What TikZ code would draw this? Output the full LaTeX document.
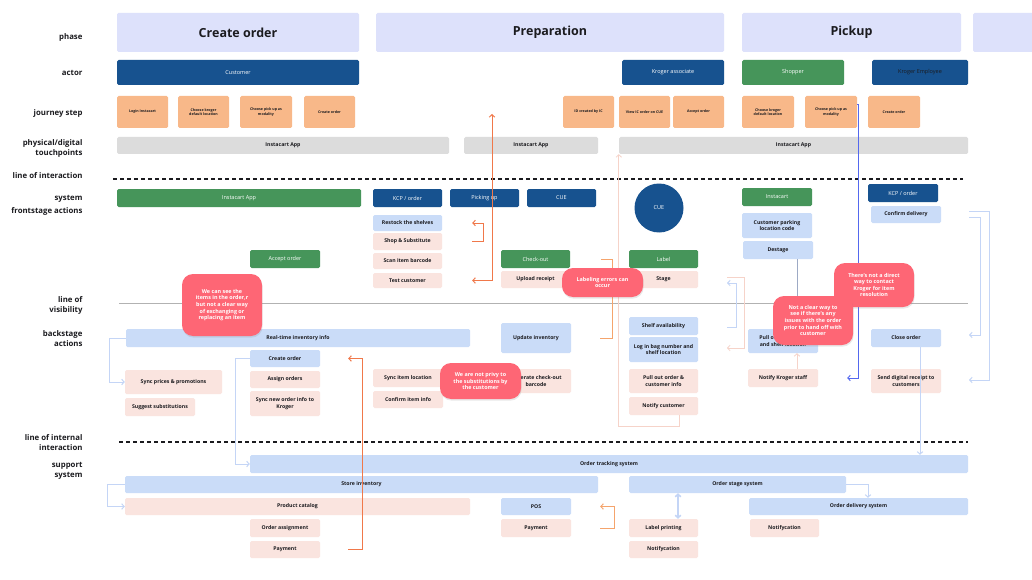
\documentclass[tikz,border=0pt]{standalone}
\usepackage{fontspec}
\setmainfont{Open Sans}
\usepackage{xcolor}
\usepackage{tikz}
\usetikzlibrary{arrows.meta,shadows}
\definecolor{inkc}{HTML}{1B1B1F}
\definecolor{phasec}{HTML}{DDE1FB}
\definecolor{actorc}{HTML}{17528F}
\definecolor{greenc}{HTML}{46955A}
\definecolor{stepc}{HTML}{F8B889}
\definecolor{touchc}{HTML}{DCDCDC}
\definecolor{lbluec}{HTML}{CADCF8}
\definecolor{pinkc}{HTML}{FAE4DF}
\definecolor{calloutc}{HTML}{FE6675}
\definecolor{orangec}{HTML}{F0784A}
\definecolor{orangel}{HTML}{F5A46C}
\definecolor{bluec}{HTML}{5468EF}
\definecolor{lblinec}{HTML}{C4D5F6}
\definecolor{pinkl}{HTML}{F6D3C9}
\tikzset{
  cell/.style={rounded corners=1.5pt,inner sep=1pt,align=center,text=inkc,font=\fontsize{5.2}{6.3}\selectfont\bfseries},
  phasebox/.style={cell,fill=phasec,font=\fontsize{12.5}{15}\selectfont\bfseries},
  actorbox/.style={cell,fill=actorc,text=white,font=\fontsize{5.5}{6.5}\selectfont},
  greenbox/.style={cell,fill=greenc,text=white,font=\fontsize{5.5}{6.5}\selectfont},
  stepbox/.style={cell,fill=stepc,font=\fontsize{3.6}{4.4}\selectfont\bfseries},
  touchbox/.style={cell,fill=touchc},
  lbox/.style={cell,fill=lbluec},
  pbox/.style={cell,fill=pinkc},
  callout/.style={fill=calloutc,text=white,rounded corners=11pt,inner sep=1pt,align=center,
    font=\fontsize{5.4}{6.6}\selectfont\bfseries,drop shadow={opacity=0.18,shadow xshift=0.6pt,shadow yshift=-1.6pt}},
  rowlab/.style={anchor=east,align=right,text=inkc,font=\fontsize{7.8}{10}\selectfont\bfseries},
  dashln/.style={line width=1.2pt,inkc,dash pattern=on 4pt off 3pt},
  visln/.style={line width=0.8pt,black!30},
  tip/.style={-{Straight Barb[length=2.5pt,width=5.5pt]}},
  oar/.style={tip,line width=1pt,orangec},
  oarl/.style={tip,line width=1pt,orangel},
  lbar/.style={tip,line width=1pt,lblinec},
  pkar/.style={tip,line width=0.8pt,pinkl},
  bar/.style={tip,line width=0.9pt,bluec}
}
\newcommand{\tile}[7]{\node[#2,minimum width={#5-#3},minimum height={#6-#4}] (#1) at ({(#3+#5)/2},{(#4+#6)/2}) {#7};}

\begin{document}
\begin{tikzpicture}[x=1pt,y=-1pt]
\fill[white] (0,0) rectangle (1032,580);
\useasboundingbox (0,0) rectangle (1032,580);

\node[rowlab] (lPhase) at (86,37) {phase};
\node[rowlab] (lActor) at (86,73) {actor};
\node[rowlab] (lStep) at (86,113) {journey step};
\node[rowlab] (lTouch) at (86,148) {physical/digital\\touchpoints};
\node[rowlab] (lInter) at (86,176) {line of interaction};
\node[rowlab] (lSys) at (86,205) {system\\[3pt]frontstage actions};
\node[rowlab] (lVis) at (86,305) {line of\\visibility};
\node[rowlab] (lBack) at (86,339) {backstage\\actions};
\node[rowlab] (lInt) at (86,443) {line of internal\\interaction};
\node[rowlab] (lSup) at (86,471) {support\\system};

\tile{ph1}{phasebox}{117}{13}{359}{52}{Create order}
\tile{ph2}{phasebox}{376}{13}{724}{52}{Preparation}
\tile{ph3}{phasebox}{742}{13}{961}{52}{Pickup}
\tile{ph4}{phasebox}{973}{13}{1042}{52}{}

\tile{acCust}{actorbox}{117}{60}{359}{85}{Customer}
\tile{acAssoc}{actorbox}{622}{60}{724}{85}{Kroger associate}
\tile{acShop}{greenbox}{742}{60}{844}{85}{Shopper}
\tile{acEmpl}{actorbox,text=inkc}{872}{60}{968}{85}{Kroger Employee}

\tile{jLogin}{stepbox}{117}{96}{168}{128}{Login Instacart}
\tile{jLoc}{stepbox}{178}{96}{229}{128}{Choose kroger\\default location}
\tile{jPick}{stepbox}{240}{96}{292}{128}{Choose pick up as\\modality}
\tile{jCreate}{stepbox}{304}{96}{355}{128}{Create order}
\tile{jId}{stepbox}{563}{96}{614}{128}{ID created by IC}
\tile{jView}{stepbox}{619}{96}{670}{128}{View IC order on CUE}
\tile{jAccept}{stepbox}{673}{96}{724}{128}{Accept order}
\tile{jLocB}{stepbox}{742}{96}{794}{128}{Choose kroger\\default location}
\tile{jPickB}{stepbox}{805}{96}{857}{128}{Choose pick up as\\modality}
\tile{jCreateB}{stepbox}{868}{96}{920}{128}{Create order}

\tile{tpA}{touchbox}{117}{137}{449}{154}{Instacart App}
\tile{tpB}{touchbox}{464}{137}{598}{154}{Instacart App}
\tile{tpC}{touchbox}{619}{137}{968}{154}{Instacart App}

\draw[dashln] (113,179) -- (963,179);

\tile{fsApp}{greenbox}{117}{189}{361}{207}{Instacart App}
\tile{fsKcp}{actorbox}{373}{189}{442}{207}{KCP / order}
\tile{fsPick}{actorbox}{450}{189}{519}{207}{Picking up}
\tile{fsCue}{actorbox}{527}{189}{596}{207}{CUE}
\node[circle,fill=actorc,text=white,minimum size=49pt,inner sep=0pt,font=\fontsize{5.5}{6.5}\selectfont] (fsCueB) at (659,208) {CUE};
\tile{fsInst}{greenbox}{742}{188}{812}{206}{Instacart}
\tile{fsKcpB}{actorbox}{868}{184}{938}{202}{KCP / order}
\tile{fsConf}{lbox}{871}{206}{941}{223}{Confirm delivery}
\tile{fsRestock}{lbox}{373}{215}{442}{231}{Restock the shelves}
\tile{fsShop}{pbox}{373}{233}{442}{250}{Shop \& Substitute}
\tile{fsScan}{pbox}{373}{253}{442}{269}{Scan item barcode}
\tile{fsTest}{pbox}{373}{273}{442}{288}{Test customer}
\tile{fsAccept}{greenbox}{250}{250}{320}{268}{Accept order}
\tile{fsCheck}{greenbox}{501}{250}{570}{268}{Check-out}
\tile{fsUpload}{pbox}{501}{271}{570}{288}{Upload receipt}
\tile{fsLabel}{greenbox}{629}{250}{698}{268}{Label}
\tile{fsStage}{pbox}{629}{271}{698}{288}{Stage}
\tile{fsPark}{lbox}{742}{213}{812}{238}{Customer parking\\location code}
\tile{fsDestage}{lbox}{743}{241}{813}{259}{Destage}

\draw[visln] (119,303) -- (968,303);

\tile{bsInv}{lbox}{126}{329}{470}{347}{Real-time inventory info}
\tile{bsCreate}{lbox}{250}{350}{320}{367}{Create order}
\tile{bsAssign}{pbox}{250}{371}{320}{388}{Assign orders}
\tile{bsSyncNew}{pbox}{250}{391}{320}{416}{Sync new order info to\\Kroger}
\tile{bsSyncPr}{pbox}{125}{370}{222}{394}{Sync prices \& promotions}
\tile{bsSuggest}{pbox}{125}{398}{195}{416}{Suggest substitutions}
\tile{bsUpdInv}{lbox}{501}{323}{571}{353}{Update inventory}
\tile{bsSyncLoc}{pbox}{373}{369}{443}{387}{Sync item location}
\tile{bsConfirm}{pbox}{373}{391}{443}{408}{Confirm item info}
\tile{bsGen}{pbox}{501}{369}{571}{393}{Generate check-out\\barcode}
\tile{bsShelf}{lbox}{629}{317}{698}{335}{Shelf availability}
\tile{bsBag}{lbox}{629}{337}{698}{362}{Log in bag number and\\shelf location}
\tile{bsPull}{pbox}{629}{369}{698}{393}{Pull out order \&\\customer info}
\tile{bsNotCust}{pbox}{629}{397}{698}{415}{Notify customer}
\tile{bsPullB}{lbox}{748}{329}{818}{353}{Pull out order info\\and shelf location}
\tile{bsNotKr}{pbox}{748}{369}{818}{387}{Notify Kroger staff}
\tile{bsClose}{lbox}{871}{329}{941}{347}{Close order}
\tile{bsSend}{pbox}{871}{369}{941}{393}{Send digital receipt to\\customers}

\draw[dashln] (119,442) -- (968,442);

\tile{ssTrack}{lbox}{250}{455}{968}{473}{Order tracking system}
\tile{ssStore}{lbox}{125}{476}{598}{493}{Store inventory}
\tile{ssStageSys}{lbox}{629}{476}{846}{493}{Order stage system}
\tile{ssDeliv}{lbox}{749}{498}{968}{515}{Order delivery system}
\tile{ssCatalog}{pbox}{125}{498}{470}{515}{Product catalog}
\tile{ssPos}{lbox}{501}{498}{571}{515}{POS}
\tile{ssPayB}{pbox}{501}{519}{571}{537}{Payment}
\tile{ssAssign}{pbox}{250}{519}{320}{537}{Order assignment}
\tile{ssPay}{pbox}{250}{541}{320}{558}{Payment}
\tile{ssPrint}{pbox}{629}{519}{698}{537}{Label printing}
\tile{ssNotif}{pbox}{629}{541}{698}{558}{Notifycation}
\tile{ssNotifB}{pbox}{750}{519}{819}{537}{Notifycation}

\coordinate (tipUp) at (492,114);
\coordinate (pkA) at (727,277);
\coordinate (pkB) at (727,348);
\coordinate (lbA) at (727,327);
\coordinate (lbB) at (727,283);
\coordinate (rA) at (969,211);
\coordinate (rB) at (969,380);
\coordinate (rC) at (969,217);
\coordinate (rD) at (969,335);

\draw[lbar] (bsInv.west) -- ++(-16,0) |- (bsSyncPr.west);
\draw[lbar] (bsCreate.west) -- ++(-14,0) |- (ssTrack.west);
\draw[lbar] (ssStore.west) -- ++(-17,0) |- (ssCatalog.west);
\draw[lbar] (ssStageSys.east) -| ([xshift=9.5pt]ssDeliv.north);
\draw[lbar] ([xshift=14pt]bsClose.south) -- ([xshift=14pt]bsClose.south |- ssTrack.north);
\draw[lbar,line width=1.6pt,{Straight Barb[length=2.5pt,width=5.5pt]}-{Straight Barb[length=2.5pt,width=5.5pt]}] ([xshift=14.5pt]ssPrint.north) -- ([xshift=14.5pt]ssPrint.north |- ssStageSys.south);
\draw[line width=0.8pt,black!20!lblinec] ([xshift=19pt]fsDestage.south) -- ([xshift=19pt]fsDestage.south |- bsPullB.north);
\draw[pkar] ([xshift=14pt]bsNotKr.north) -- ([xshift=14pt]bsNotKr.north |- bsPullB.south);
\draw[lbar] (lbA) -- ++(9,0) |- (lbB);
\draw[pkar] (pkA) -- ++(17,0) |- (pkB);
\draw[lbar] (rA) -- ++(20,0) |- (rB);
\draw[lbar] (rC) -- ++(11,0) |- (rD);
\draw[pkar] ([xshift=15.5pt]bsNotCust.south) -- ++(0,11) -| (tpC.south west);
\draw[bar] ([yshift=-9pt]jPickB.north east) -- ++(1,0) |- ([xshift=29pt]bsNotKr.east);
\draw[oar,{Straight Barb[length=2.5pt,width=5.5pt]}-{Straight Barb[length=2.5pt,width=5.5pt]}] ([xshift=30pt]fsTest.east) -| (tipUp);
\draw[oar] ([xshift=30pt]fsShop.east) -- ++(11,0) |- ([xshift=30pt]fsRestock.east);
\draw[oar] ([xshift=28pt]ssPay.east) -- ++(14,0) |- ([xshift=28pt]bsCreate.east);
\draw[oarl] ([xshift=29pt]ssPayB.east) -- ++(14,0) |- ([xshift=29pt]ssPos.east);
\draw[line width=1pt,orangel] ([xshift=31pt]fsCheck.east) -- ++(11,0) |- ([xshift=29pt]bsUpdInv.east);

\tile{cItems}{callout}{182}{274}{262}{336}{We can see the\\items in the order,r\\but not a clear way\\of exchanging or\\replacing an item}
\tile{cLabel}{callout}{562}{268}{643}{297}{Labeling errors can\\occur}
\tile{cPrivy}{callout}{440}{363}{521}{399}{We are not privy to\\the substitutions by\\the customer}
\tile{cDirect}{callout}{834}{263}{914}{307}{There's not a direct\\way to contact\\Kroger for item\\resolution}
\tile{cClear}{callout}{773}{296}{853}{345}{Not a clear way to\\see if there's any\\issues with the order\\prior to hand off with\\customer}
\end{tikzpicture}
\end{document}
